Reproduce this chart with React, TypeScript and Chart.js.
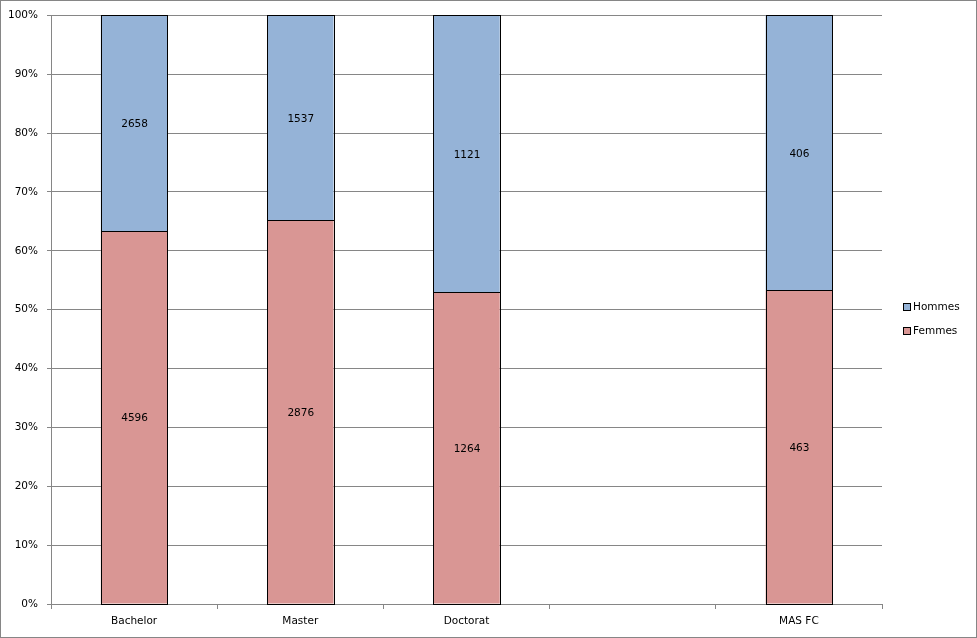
import React, { useEffect, useRef } from "react";
import { Chart, registerables } from "chart.js";

Chart.register(...registerables);

const categories = ["Bachelor", "Master", "Doctorat", "", "MAS FC"];
const hommes = [2658, 1537, 1121, null, 406];
const femmes = [4596, 2876, 1264, null, 463];
const yTicks = [0, 10, 20, 30, 40, 50, 60, 70, 80, 90, 100];

const FONT = "'DejaVu Sans', Verdana, sans-serif";
const FS = 10.5;

function pct(a: (number | null)[], b: (number | null)[]) {
  return a.map((v, i) => (v == null || b[i] == null ? null : (v / ((v as number) + (b[i] as number))) * 100));
}

const labelPlugin = {
  id: "segLabels",
  afterDatasetsDraw(chart: any) {
    const ctx = chart.ctx;
    ctx.save();
    // crisp bar borders
    ctx.strokeStyle = "#000";
    ctx.lineWidth = 1;
    chart.data.datasets.forEach((ds: any, di: number) => {
      const meta = chart.getDatasetMeta(di);
      meta.data.forEach((bar: any, i: number) => {
        if (ds.rawValues[i] == null) return;
        const l = Math.round(bar.x - bar.width / 2);
        const r = Math.round(bar.x + bar.width / 2);
        const t = Math.round(Math.min(bar.y, bar.base));
        const b = Math.round(Math.max(bar.y, bar.base));
        ctx.strokeRect(l + 0.5, t + 0.5, r - l, b - t);
      });
    });
    ctx.font = `${FS}px ${FONT}`;
    ctx.fillStyle = "#000";
    ctx.textAlign = "center";
    ctx.textBaseline = "middle";
    chart.data.datasets.forEach((ds: any, di: number) => {
      const meta = chart.getDatasetMeta(di);
      meta.data.forEach((bar: any, i: number) => {
        const raw = ds.rawValues[i];
        if (raw == null) return;
        const y = (bar.y + bar.base) / 2 + 1.5;
        ctx.fillText(String(raw), bar.x + 0.5, y);
      });
    });
    ctx.restore();
  },
};

const legendPlugin = {
  id: "customLegend",
  afterDraw(chart: any) {
    const ctx = chart.ctx;
    ctx.save();
    ctx.font = `${FS}px ${FONT}`;
    ctx.textBaseline = "middle";
    ctx.textAlign = "left";
    const items = [...chart.data.datasets].reverse();
    const x = 903;
    const y0 = 307;
    items.forEach((ds: any, k: number) => {
      const y = y0 + k * 24;
      ctx.fillStyle = ds.backgroundColor;
      ctx.fillRect(x + 0.5, y - 3.5, 7, 7);
      ctx.strokeStyle = "#000";
      ctx.lineWidth = 1;
      ctx.strokeRect(x + 0.5, y - 3.5, 7, 7);
      ctx.fillStyle = "#000";
      ctx.fillText(ds.label, x + 10, y + 0.5);
    });
    ctx.strokeStyle = "#868686";
    ctx.lineWidth = 1;
    ctx.strokeRect(0.5, 0.5, chart.width - 1, chart.height - 1);
    ctx.restore();
  },
};

export default function App() {
  const ref = useRef<HTMLCanvasElement | null>(null);
  useEffect(() => {
    if (!ref.current) return;
    const chart = new Chart(ref.current, {
      type: "bar",
      data: {
        labels: categories,
        datasets: [
          {
            label: "Femmes",
            data: pct(femmes, hommes) as any,
            rawValues: femmes,
            backgroundColor: "#D99694",
            borderWidth: 0,
            barPercentage: 0.4,
            categoryPercentage: 1,
          } as any,
          {
            label: "Hommes",
            data: pct(hommes, femmes) as any,
            rawValues: hommes,
            backgroundColor: "#95B3D7",
            borderWidth: 0,
            barPercentage: 0.4,
            categoryPercentage: 1,
          } as any,
        ],
      },
      options: {
        animation: false,
        responsive: false,
        maintainAspectRatio: false,
        layout: { padding: { top: 15, right: 95, left: 0, bottom: 0 } },
        plugins: { legend: { display: false }, tooltip: { enabled: false } },
        scales: {
          x: {
            stacked: true,
            offset: true,
            grid: {
              offset: true,
              drawOnChartArea: false,
              drawTicks: true,
              tickLength: 5,
              color: "#868686",
            },
            border: { display: true, color: "#868686" },
            ticks: { color: "#000", font: { family: FONT, size: FS }, padding: 6, maxRotation: 0 },
            afterFit(scale: any) {
              scale.height = 34;
            },
          },
          y: {
            stacked: true,
            min: 0,
            max: 100,
            afterBuildTicks(scale: any) {
              scale.ticks = yTicks.map((v) => ({ value: v }));
            },
            grid: { color: "#868686", tickLength: 4, drawTicks: true },
            border: { display: true, color: "#868686" },
            ticks: {
              color: "#000",
              font: { family: FONT, size: FS },
              padding: 9,
              callback: (v: any) => `${v}%`,
            },
            afterFit(scale: any) {
              scale.width = 51;
            },
          },
        },
      },
      plugins: [labelPlugin, legendPlugin],
    } as any);
    return () => chart.destroy();
  }, []);
  return (
    <div style={{ position: "fixed", left: 0, top: 0, width: 977, height: 638, background: "#fff" }}>
      <canvas ref={ref} width={977} height={638} style={{ display: "block" }} />
    </div>
  );
}
